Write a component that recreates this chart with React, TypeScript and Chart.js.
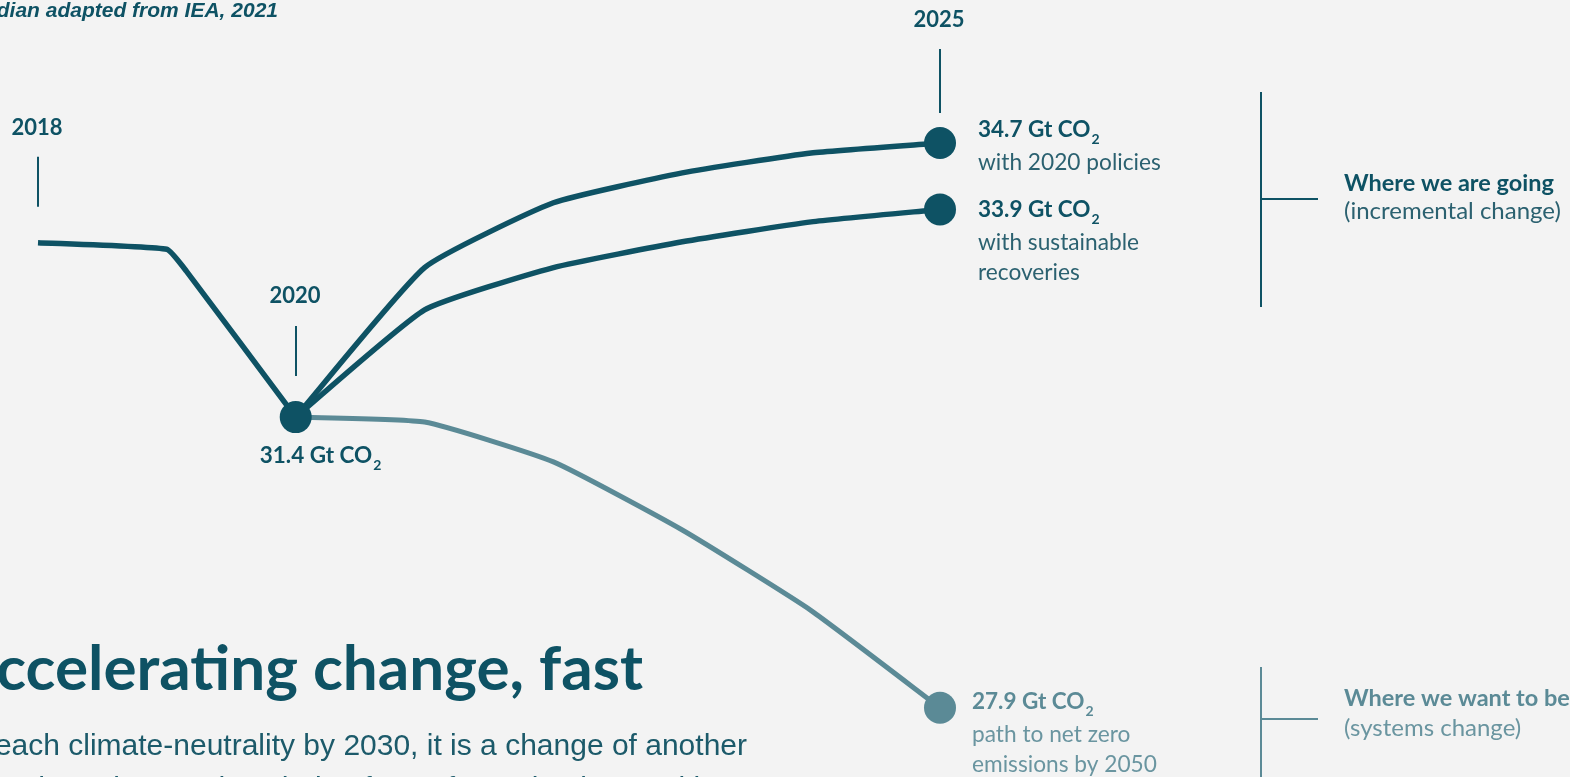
import React, { useEffect, useRef } from "react";
import { Chart, registerables } from "chart.js";

Chart.register(...registerables);

// ---- data ----
const historyYears = [2018, 2019, 2019.15, 2020];
const historyValues = [33.5, 33.42, 33.16, 31.4];
const projectionYears = [2020, 2021, 2022, 2023, 2024, 2025];
const policiesValues = [31.4, 33.2, 33.98, 34.34, 34.58, 34.7];
const sustainableValues = [31.4, 32.69, 33.2, 33.51, 33.75, 33.9];
const netZeroValues = [31.4, 31.34, 30.86, 30.04, 29.07, 27.9];

const markerYears = [2018, 2020, 2025];
const markerLabels = ["2018", "2020", "2025"];
const startValueLabel = "31.4 Gt CO";
const endValueLabels = ["34.7 Gt CO", "33.9 Gt CO", "27.9 Gt CO"];
const endDescriptions = [
  ["with 2020 policies"],
  ["with sustainable", "recoveries"],
  ["path to net zero", "emissions by 2050"],
];
const groupTitles = ["Where we are going", "Where we want to be"];
const groupSubtitles = ["(incremental change)", "(systems change)"];
const sourceText = "Source: median adapted from IEA, 2021";
const titleText = "Accelerating change, fast";
const bodyLines = [
  "To reach climate-neutrality by 2030, it is a change of another",
  "order, that takes on the whole of transformation in our cities",
];

// ---- styles ----
const BG = "#f3f3f3";
const TEAL = "#0e5264";
const TEAL_TEXT = "#2b6170";
const LIGHT = "#5b8a96";
const LIGHT_TEXT = "#6a95a0";
const SANS = "Lato, 'Noto Sans', sans-serif";
const ARIAL = "'Liberation Sans', Arial, sans-serif";

const markerStyle = [
  { label: -108, top: -86, bottom: -36 },
  { label: -114, top: -91, bottom: -41 },
  { label: -116, top: -94, bottom: -30 },
];
const endStyle = [
  { dx: 38, dy: -6, color: TEAL, text: TEAL_TEXT },
  { dx: 38, dy: 8, color: TEAL, text: TEAL_TEXT },
  { dx: 32, dy: 1, color: LIGHT, text: LIGHT_TEXT },
];
const bracketStyle = [
  { x: 1261, top: 92, bottom: 307, mid: 199, arm: 1318, textX: 1344, titleY: 191, subY: 219, color: TEAL, text: TEAL_TEXT },
  { x: 1261, top: 667, bottom: 780, mid: 719, arm: 1318, textX: 1344, titleY: 706, subY: 736, color: LIGHT, text: LIGHT_TEXT },
];

function valueWithSub(ctx: CanvasRenderingContext2D, x: number, y: number, main: string, color: string) {
  ctx.textAlign = "left";
  ctx.fillStyle = color;
  ctx.font = `bold 22.5px ${SANS}`;
  ctx.fillText(main, x, y);
  const w = ctx.measureText(main).width;
  ctx.font = `bold 14px ${SANS}`;
  ctx.fillText("2", x + w + 1, y + 7);
}

const annotationPlugin = {
  id: "annotations",
  beforeDatasetsDraw(chart: any) {
    const ctx: CanvasRenderingContext2D = chart.ctx;
    const xs = chart.scales.x;
    const ys = chart.scales.y;
    const allSeries = [
      { years: historyYears, values: historyValues },
      { years: projectionYears, values: policiesValues },
      { years: projectionYears, values: sustainableValues },
      { years: projectionYears, values: netZeroValues },
    ];
    ctx.save();
    ctx.lineWidth = 2;
    markerYears.forEach((yr, i) => {
      let top = -Infinity;
      allSeries.forEach((s) => {
        const idx = s.years.indexOf(yr);
        if (idx >= 0) top = Math.max(top, s.values[idx]);
      });
      const px = Math.round(xs.getPixelForValue(yr));
      const py = ys.getPixelForValue(top);
      const st = markerStyle[i];
      ctx.strokeStyle = TEAL;
      ctx.beginPath();
      ctx.moveTo(px, py + st.top);
      ctx.lineTo(px, py + st.bottom);
      ctx.stroke();
      ctx.fillStyle = TEAL;
      ctx.font = `bold 22px ${SANS}`;
      ctx.textAlign = "center";
      ctx.fillText(markerLabels[i], px - 1, py + st.label);
    });
    bracketStyle.forEach((b) => {
      ctx.strokeStyle = b.color;
      ctx.beginPath();
      ctx.moveTo(b.x, b.top);
      ctx.lineTo(b.x, b.bottom);
      ctx.moveTo(b.x, b.mid);
      ctx.lineTo(b.arm, b.mid);
      ctx.stroke();
    });
    ctx.restore();
  },
  afterDatasetsDraw(chart: any) {
    const ctx: CanvasRenderingContext2D = chart.ctx;
    const xs = chart.scales.x;
    const ys = chart.scales.y;
    ctx.save();
    ctx.textBaseline = "alphabetic";
    // start label
    const sx = xs.getPixelForValue(projectionYears[0]);
    const sy = ys.getPixelForValue(policiesValues[0]);
    valueWithSub(ctx, sx - 36, sy + 46, startValueLabel, TEAL);

    // end labels
    const ends = [policiesValues, sustainableValues, netZeroValues];
    const ex = xs.getPixelForValue(projectionYears[projectionYears.length - 1]);
    ends.forEach((vals, i) => {
      const st = endStyle[i];
      const ey = ys.getPixelForValue(vals[vals.length - 1]);
      const base = ey + st.dy;
      valueWithSub(ctx, ex + st.dx, base, endValueLabels[i], st.color);
      ctx.font = `22.7px ${SANS}`;
      ctx.fillStyle = st.text;
      endDescriptions[i].forEach((line, j) => {
        ctx.fillText(line, ex + st.dx, base + 33 + j * 30);
      });
    });

    // group labels
    bracketStyle.forEach((b, i) => {
      ctx.textAlign = "left";
      ctx.fillStyle = b.color;
      ctx.font = `bold 23.5px ${SANS}`;
      ctx.fillText(groupTitles[i], b.textX, b.titleY);
      ctx.fillStyle = b.text;
      ctx.font = `24px ${SANS}`;
      ctx.fillText(groupSubtitles[i], b.textX, b.subY);
    });

    // source
    ctx.fillStyle = TEAL;
    ctx.font = `italic bold 21px ${ARIAL}`;
    ctx.textAlign = "right";
    ctx.fillText(sourceText, 278, 17);

    // title
    ctx.font = `bold 62px ${SANS}`;
    ctx.textAlign = "right";
    ctx.fillText(titleText, 643, 690);

    // body
    ctx.font = `30px ${ARIAL}`;
    ctx.fillStyle = "#1c5a6a";
    const w1 = ctx.measureText(bodyLines[0]).width;
    const left = 747 - w1;
    ctx.textAlign = "left";
    ctx.fillText(bodyLines[0], left, 755);
    ctx.fillText(bodyLines[1], left, 798);
    ctx.restore();
  },
};

export default function App() {
  const ref = useRef<HTMLCanvasElement | null>(null);
  useEffect(() => {
    if (!ref.current) return;
    const lastRadius = (n: number) => (c: any) => (c.dataIndex === n - 1 ? 16 : 0);
    const toXY = (xs: number[], ys: number[]) => xs.map((x, i) => ({ x, y: ys[i] }));
    const chart = new Chart(ref.current, {
      type: "line",
      data: {
        datasets: [
          {
            data: toXY(historyYears, historyValues),
            borderColor: TEAL,
            backgroundColor: TEAL,
            borderWidth: 5.5,
            tension: 0.12,
            pointRadius: lastRadius(historyYears.length),
            pointBorderWidth: 0,
            clip: false as any,
          },
          {
            data: toXY(projectionYears, policiesValues),
            borderColor: TEAL,
            backgroundColor: TEAL,
            borderWidth: 5.5,
            tension: 0.15,
            pointRadius: lastRadius(projectionYears.length),
            pointBorderWidth: 0,
            clip: false as any,
          },
          {
            data: toXY(projectionYears, sustainableValues),
            borderColor: TEAL,
            backgroundColor: TEAL,
            borderWidth: 5.5,
            tension: 0.15,
            pointRadius: lastRadius(projectionYears.length),
            pointBorderWidth: 0,
            clip: false as any,
          },
          {
            data: toXY(projectionYears, netZeroValues),
            borderColor: LIGHT,
            backgroundColor: LIGHT,
            borderWidth: 5,
            tension: 0.15,
            pointRadius: lastRadius(projectionYears.length),
            pointBorderWidth: 0,
            clip: false as any,
          },
        ],
      },
      options: {
        animation: false,
        responsive: false,
        events: [],
        layout: { padding: { left: 38, right: 630, top: 35, bottom: 36 } },
        plugins: { legend: { display: false }, tooltip: { enabled: false } },
        scales: {
          x: { type: "linear", min: 2018, max: 2025, display: false },
          y: { type: "linear", min: 27.5, max: 36, display: false },
        },
      },
      plugins: [annotationPlugin],
    });
    return () => chart.destroy();
  }, []);
  return (
    <div style={{ position: "fixed", left: 0, top: 0, width: 1570, height: 777, background: BG, overflow: "hidden" }}>
      <canvas ref={ref} width={1570} height={777} style={{ display: "block", width: 1570, height: 777 }} />
    </div>
  );
}
